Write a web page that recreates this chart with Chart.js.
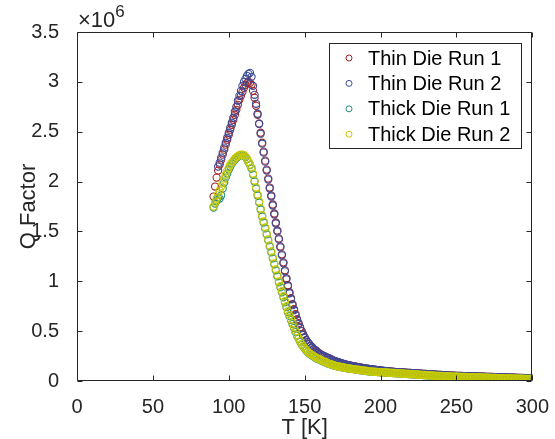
<!DOCTYPE html>
<html>
<head>
<meta charset="utf-8">
<script src="https://cdn.jsdelivr.net/npm/chart.js@4.4.1/dist/chart.umd.min.js"></script>
<style>
html,body{margin:0;padding:0;background:#fff;}
#wrap{width:555px;height:439px;}
</style>
</head>
<body>
<div id="wrap"><canvas id="c" width="555" height="439"></canvas></div>
<script>
// Temperature [K] (x values)
const temperature = [
  90,91,92,93,94,95,96,97,98,99,
  100,101,102,103,104,105,106,107,108,109,
  110,111,112,113,114,115,116,117,118,119,
  120,121,122,123,124,125,126,127,128,129,
  130,131,132,133,134,135,136,137,138,139,
  140,141,142,143,144,145,146,147,148,149,
  150,151,152,153,154,155,156,157,158,159,
  160,161,162,163,164,165,166,167,168,169,
  170,171,172,173,174,175,176,177,178,179,
  180,181,182,183,184,185,186,187,188,189,
  190,191,192,193,194,195,196,197,198,199,
  200,
  201,202,203,204,205,206,207,208,209,210,
  211,212,213,214,215,216,217,218,219,220,
  221,222,223,224,225,226,227,228,229,230,
  231,232,233,234,235,236,237,238,239,240,
  241,242,243,244,245,246,247,248,249,250,
  251,252,253,254,255,256,257,258,259,260,
  261,262,263,264,265,266,267,268,269,270,
  271,272,273,274,275,276,277,278,279,280,
  281,282,283,284,285,286,287,288,289,290,
  291,292,293,294,295,296,297,298,299,300
];

// Q factor in units of 1e6
const thinRun1 = [
  1.85,1.95,2.04,2.11,2.17,2.22,2.27,2.32,2.37,2.42,
  2.47,2.52,2.57,2.62,2.67,2.72,2.77,2.82,2.86,2.90,
  2.94,2.97,2.99,3.00,2.99,2.97,2.91,2.84,2.76,2.67,
  2.58,2.49,2.39,2.30,2.21,2.12,2.03,1.94,1.86,1.77,
  1.68,1.59,1.51,1.43,1.35,1.27,1.19,1.11,1.03,0.96,
  0.89,0.83,0.77,0.72,0.67,0.62,0.58,0.54,0.50,0.47,
  0.44,0.41,0.39,0.37,0.35,0.34,0.32,0.31,0.30,0.285,
  0.275,0.265,0.255,0.25,0.24,0.235,0.23,0.22,0.215,0.205,
  0.20,0.195,0.19,0.185,0.18,0.175,0.17,0.166,0.162,0.158,
  0.155,0.152,0.149,0.146,0.143,0.14,0.137,0.134,0.132,0.129,
  0.126,0.124,0.122,0.12,0.118,0.116,0.114,0.112,0.11,0.108,
  0.106,
  0.104,0.102,0.101,0.099,0.098,0.096,0.095,0.093,0.092,0.09,
  0.089,0.088,0.087,0.086,0.085,0.084,0.083,0.082,0.081,0.08,
  0.079,0.078,0.077,0.076,0.075,0.074,0.073,0.072,0.071,0.07,
  0.069,0.068,0.067,0.066,0.065,0.064,0.063,0.062,0.061,0.06,
  0.059,0.058,0.057,0.056,0.055,0.054,0.0535,0.053,0.0525,0.052,
  0.0515,0.051,0.0505,0.05,0.0495,0.049,0.0485,0.048,0.0475,0.047,
  0.0465,0.046,0.0455,0.045,0.0445,0.044,0.0435,0.043,0.0425,0.042,
  0.0415,0.041,0.0405,0.04,0.0395,0.039,0.0385,0.038,0.0375,0.037,
  0.0365,0.036,0.0355,0.035,0.0345,0.034,0.0335,0.033,0.0325,0.032,
  0.0315,0.031,0.0305,0.03,0.0295,0.029,0.0285,0.028,0.0275,0.027
];

const thinRun2 = [
  null,null,null,2.15,2.19,2.24,2.29,2.34,2.39,2.44,
  2.49,2.54,2.59,2.64,2.70,2.75,2.81,2.86,2.91,2.96,
  3.00,3.03,3.06,3.08,3.09,3.05,2.96,2.87,2.78,2.68,
  2.58,2.48,2.38,2.29,2.20,2.11,2.02,1.93,1.85,1.76,
  1.67,1.58,1.50,1.42,1.34,1.26,1.18,1.10,1.02,0.95,
  0.88,0.82,0.76,0.71,0.66,0.61,0.57,0.53,0.50,0.46,
  0.43,0.41,0.39,0.37,0.35,0.33,0.32,0.31,0.29,0.28,
  0.27,0.26,0.255,0.25,0.24,0.235,0.23,0.22,0.21,0.205,
  0.20,0.195,0.19,0.185,0.18,0.175,0.17,0.165,0.16,0.157,
  0.154,0.151,0.148,0.145,0.142,0.14,0.137,0.134,0.131,0.128,
  0.125,0.123,0.121,0.119,0.117,0.115,0.113,0.111,0.109,0.107,
  0.105,
  0.103,0.101,0.1,0.098,0.097,0.095,0.094,0.092,0.091,0.089,
  0.088,0.087,0.086,0.085,0.084,0.083,0.082,0.081,0.08,0.079,
  0.078,0.077,0.076,0.075,0.074,0.073,0.072,0.071,0.07,0.069,
  0.068,0.067,0.066,0.065,0.064,0.063,0.062,0.061,0.06,0.059,
  0.058,0.057,0.056,0.055,0.054,0.053,0.0525,0.052,0.0515,0.051,
  0.0505,0.05,0.0495,0.049,0.0485,0.048,0.0475,0.047,0.0465,0.046,
  0.0455,0.045,0.0445,0.044,0.0435,0.043,0.0425,0.042,0.0415,0.041,
  0.0405,0.04,0.0395,0.039,0.0385,0.038,0.0375,0.037,0.0365,0.036,
  0.0355,0.035,0.0345,0.034,0.0335,0.033,0.0325,0.032,0.0315,0.031,
  0.0305,0.03,0.0295,0.029,0.0285,0.028,0.0275,0.027,0.0265,0.026
];

const thickRun1 = [
  1.74,1.78,1.81,1.84,1.83,1.86,1.93,1.99,2.04,2.08,
  2.12,2.15,2.18,2.20,2.22,2.235,2.25,2.26,2.265,2.265,
  2.26,2.245,2.225,2.195,2.165,2.13,2.07,2.00,1.93,1.86,
  1.79,1.72,1.65,1.59,1.53,1.47,1.41,1.35,1.29,1.23,
  1.17,1.11,1.05,0.99,0.94,0.89,0.84,0.79,0.74,0.69,
  0.65,0.61,0.57,0.53,0.49,0.455,0.425,0.395,0.365,0.345,
  0.325,0.305,0.29,0.275,0.265,0.255,0.245,0.235,0.225,0.22,
  0.215,0.205,0.197,0.192,0.186,0.178,0.173,0.168,0.163,0.158,
  0.153,0.149,0.146,0.143,0.14,0.137,0.134,0.131,0.128,0.126,
  0.123,0.121,0.119,0.116,0.114,0.112,0.11,0.108,0.106,0.104,
  0.102,0.1,0.098,0.096,0.095,0.093,0.092,0.091,0.09,0.089,
  0.088,
  0.087,0.086,0.085,0.084,0.083,0.082,0.081,0.08,0.079,0.078,
  0.077,0.076,0.075,0.074,0.073,0.072,0.071,0.07,0.069,0.068,
  0.067,0.066,0.065,0.064,0.063,0.062,0.061,0.06,0.059,0.058,
  0.057,0.056,0.055,0.054,0.053,0.052,0.051,0.05,0.049,0.048,
  0.047,0.0465,0.046,0.0455,0.045,0.0445,0.044,0.0435,0.043,0.0425,
  0.042,0.0415,0.041,0.0405,0.04,0.0395,0.039,0.0385,0.038,0.0375,
  0.037,0.0365,0.036,0.0355,0.035,0.0345,0.034,0.0335,0.033,0.0325,
  0.032,0.0315,0.031,0.0305,0.03,0.0295,0.029,0.0285,0.028,0.0275,
  0.027,0.0265,0.026,0.0255,0.025,0.0245,0.024,0.0235,0.023,0.0225,
  0.0225,0.022,0.022,0.0215,0.0215,0.021,0.021,0.0205,0.0205,0.02
];

const thickRun2 = [
  1.75,1.79,1.83,1.87,1.91,1.95,1.99,2.03,2.07,2.11,
  2.14,2.17,2.19,2.21,2.23,2.245,2.255,2.265,2.27,2.27,
  2.265,2.25,2.23,2.20,2.17,2.14,2.08,2.01,1.94,1.87,
  1.80,1.73,1.66,1.60,1.54,1.48,1.42,1.36,1.30,1.24,
  1.18,1.12,1.06,1.00,0.95,0.90,0.85,0.80,0.75,0.70,
  0.66,0.62,0.58,0.54,0.50,0.46,0.43,0.40,0.37,0.35,
  0.33,0.31,0.295,0.28,0.27,0.26,0.25,0.24,0.23,0.225,
  0.22,0.21,0.20,0.195,0.19,0.18,0.175,0.17,0.165,0.16,
  0.155,0.15,0.147,0.144,0.141,0.138,0.135,0.132,0.13,0.127,
  0.124,0.122,0.12,0.117,0.115,0.113,0.111,0.109,0.107,0.105,
  0.103,0.101,0.099,0.097,0.095,0.094,0.093,0.092,0.091,0.09,
  0.089,
  0.088,0.087,0.086,0.085,0.084,0.083,0.082,0.081,0.08,0.079,
  0.078,0.077,0.076,0.075,0.074,0.073,0.072,0.071,0.07,0.069,
  0.068,0.067,0.066,0.065,0.064,0.063,0.062,0.061,0.06,0.059,
  0.058,0.057,0.056,0.055,0.054,0.053,0.052,0.051,0.05,0.049,
  0.048,0.047,0.0465,0.046,0.0455,0.045,0.0445,0.044,0.0435,0.043,
  0.0425,0.042,0.0415,0.041,0.0405,0.04,0.0395,0.039,0.0385,0.038,
  0.0375,0.037,0.0365,0.036,0.0355,0.035,0.0345,0.034,0.0335,0.033,
  0.0325,0.032,0.0315,0.031,0.0305,0.03,0.0295,0.029,0.0285,0.028,
  0.0275,0.027,0.0265,0.026,0.0255,0.025,0.0245,0.024,0.0235,0.023,
  0.023,0.0225,0.0225,0.022,0.022,0.0215,0.0215,0.021,0.021,0.021
];

const seriesLabels = ['Thin Die Run 1','Thin Die Run 2','Thick Die Run 1','Thick Die Run 2'];
const seriesColors = ['#A3262A','#3B4A98','#2A8C7C','#CACA00'];
const seriesValues = [thinRun1, thinRun2, thickRun1, thickRun2];
const xTickValues = [0,50,100,150,200,250,300];
const yTickValues = [0,0.5,1,1.5,2,2.5,3,3.5];

const FONT = '"Liberation Sans", Arial, Helvetica, sans-serif';
const AXIS_COLOR = '#262626';

function toPoints(vals){
  const pts = [];
  vals.forEach((v,i)=>{ if (v !== null) pts.push({x: temperature[i], y: v}); });
  return pts;
}

const datasets = seriesValues.map((vals, i) => ({
  label: seriesLabels[i],
  data: toPoints(vals),
  borderColor: seriesColors[i],
  backgroundColor: 'rgba(0,0,0,0)',
  pointRadius: 3.6,
  pointBorderWidth: 1.1,
  pointStyle: 'circle',
  showLine: false,
  order: seriesValues.length - i
}));

const framePlugin = {
  id: 'frame',
  afterDatasetsDraw(chart){
    const {ctx, chartArea: a, scales: {x, y}} = chart;
    ctx.save();
    ctx.strokeStyle = AXIS_COLOR;
    ctx.lineWidth = 1;
    const L = Math.round(a.left) + 0.5, R = Math.round(a.right) - 0.5;
    const T = Math.round(a.top) + 0.5, B = Math.round(a.bottom) - 0.5;
    ctx.beginPath();
    ctx.rect(L, T, R - L, B - T);
    x.ticks.forEach(t => {
      const px = Math.round(x.getPixelForValue(t.value)) + 0.5;
      ctx.moveTo(px, B); ctx.lineTo(px, B - 5);
      ctx.moveTo(px, T); ctx.lineTo(px, T + 5);
    });
    y.ticks.forEach(t => {
      const py = Math.round(y.getPixelForValue(t.value)) + 0.5;
      ctx.moveTo(L, py); ctx.lineTo(L + 5, py);
      ctx.moveTo(R, py); ctx.lineTo(R - 5, py);
    });
    ctx.stroke();

    // exponent label
    ctx.fillStyle = AXIS_COLOR;
    ctx.textBaseline = 'alphabetic';
    ctx.textAlign = 'left';
    ctx.font = '22px ' + FONT;
    ctx.fillText('\u00d710', a.left + 1, 27);
    const w = ctx.measureText('\u00d710').width;
    ctx.font = '17px ' + FONT;
    ctx.fillText('6', a.left + 1 + w, 17);

    // legend box
    const bx = 329.5, by = 43.5, bw = 192, bh = 105;
    ctx.fillStyle = '#ffffff';
    ctx.fillRect(bx, by, bw, bh);
    ctx.strokeStyle = '#262626';
    ctx.strokeRect(bx, by, bw, bh);
    ctx.font = '20px ' + FONT;
    ctx.textBaseline = 'middle';
    chart.data.datasets.forEach((ds, i) => {
      const cy = 58 + i * 25.4;
      ctx.beginPath();
      ctx.strokeStyle = ds.borderColor;
      ctx.lineWidth = 1;
      ctx.arc(349, cy, 3, 0, Math.PI * 2);
      ctx.stroke();
      ctx.fillStyle = '#000000';
      ctx.fillText(ds.label, 368, cy + 1);
    });
    ctx.restore();
  }
};

new Chart(document.getElementById('c'), {
  type: 'scatter',
  data: { datasets },
  options: {
    responsive: false,
    animation: false,
    devicePixelRatio: 1,
    layout: { padding: { top: 32, right: 22, left: 0, bottom: 0 } },
    plugins: { legend: { display: false }, tooltip: { enabled: false } },
    scales: {
      x: {
        type: 'linear', min: 0, max: 300,
        afterBuildTicks(scale){ scale.ticks = xTickValues.map(v => ({value: v})); },
        afterFit(scale){ scale.height = 58; },
        grid: { display: false },
        border: { display: false },
        ticks: { color: AXIS_COLOR, font: { family: FONT, size: 20 }, padding: 6, maxRotation: 0,
                 callback: v => String(v) },
        title: { display: true, text: 'T [K]', color: AXIS_COLOR, font: { family: FONT, size: 22, lineHeight: 1.0 }, padding: { top: 0, bottom: 0 } }
      },
      y: {
        type: 'linear', min: 0, max: 3.5,
        afterBuildTicks(scale){ scale.ticks = yTickValues.map(v => ({value: v})); },
        afterFit(scale){ scale.width = 77; },
        grid: { display: false },
        border: { display: false },
        ticks: { color: AXIS_COLOR, font: { family: FONT, size: 20 }, padding: 10,
                 callback: v => String(v) },
        title: { display: true, text: 'Q Factor', color: AXIS_COLOR, font: { family: FONT, size: 22, lineHeight: 1.0 }, padding: { top: 18, bottom: 0 } }
      }
    }
  },
  plugins: [framePlugin]
});
</script>
</body>
</html>
